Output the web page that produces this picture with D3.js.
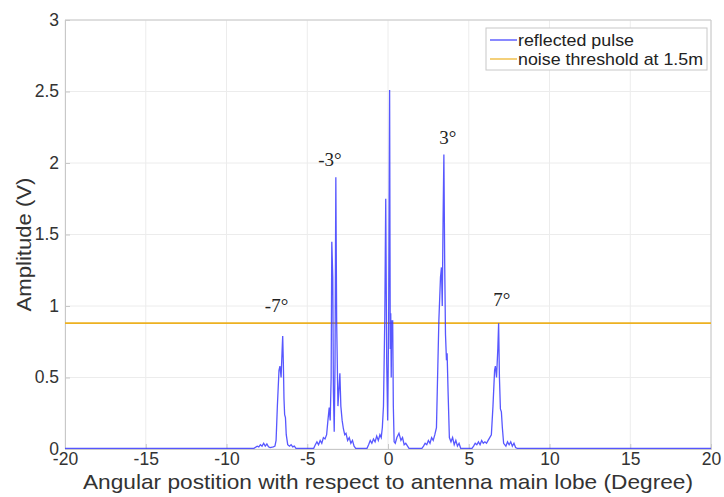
<!DOCTYPE html>
<html><head><meta charset="utf-8">
<script src="https://cdn.jsdelivr.net/npm/d3@7"></script>
<style>body{margin:0;background:#fff}svg{display:block}</style>
</head><body>
<svg id="c" width="724" height="497"></svg>
<script>
const angles = [-20,-8.3,-8.1,-8.0,-7.9,-7.8,-7.7,-7.6,-7.5,-7.4,-7.3,-7.1,-7.0,-6.93,-6.85,-6.75,-6.69,-6.62,-6.56,-6.52,-6.48,-6.44,-6.40,-6.35,-6.30,-6.21,-6.1,-6.0,-5.9,-5.8,-5.7,
 -4.6,-4.5,-4.4,-4.3,-4.2,-4.1,-4.0,-3.9,-3.8,-3.72,-3.64,-3.58,-3.52,-3.48,-3.42,-3.38,-3.33,-3.28,-3.23,-3.18,-3.1,-3.02,-2.98,-2.92,-2.84,-2.76,-2.68,-2.6,-2.5,-2.4,-2.3,-2.2,-2.1,-2.0,
 -1.3,-1.2,-1.1,-1.0,-0.9,-0.8,-0.7,-0.6,-0.5,-0.42,-0.35,-0.28,-0.2,-0.14,-0.08,-0.02,0.04,0.1,0.14,0.17,0.2,0.23,0.26,0.29,0.33,0.38,0.45,0.55,0.68,0.8,0.9,1.0,1.1,1.3,
 2.1,2.2,2.3,2.4,2.5,2.6,2.7,2.8,2.9,3.0,3.05,3.15,3.25,3.31,3.36,3.41,3.46,3.51,3.56,3.62,3.66,3.72,3.8,3.9,4.0,4.1,4.2,4.3,4.4,4.5,
 5.2,5.3,5.4,5.5,5.6,5.7,5.8,5.9,6.0,6.1,6.2,6.3,6.4,6.5,6.6,6.65,6.72,6.8,6.85,6.9,6.96,7.02,7.08,7.16,7.3,7.4,7.5,7.6,7.7,7.8,7.9,8.0,20];
const amplitudes = [0.005,0.005,0.02,0.015,0.03,0.02,0.04,0.02,0.035,0.015,0.01,0.015,0.02,0.06,0.3,0.55,0.58,0.5,0.68,0.79,0.6,0.35,0.24,0.22,0.1,0.03,0.02,0.03,0.015,0.02,0.005,
 0.005,0.03,0.05,0.03,0.06,0.04,0.08,0.07,0.1,0.2,0.29,0.2,0.5,1.45,1.2,0.4,0.12,0.6,1.9,0.9,0.3,0.45,0.53,0.3,0.2,0.14,0.1,0.11,0.06,0.08,0.04,0.06,0.02,0.005,
 0.005,0.03,0.06,0.04,0.07,0.05,0.09,0.06,0.1,0.08,0.15,0.3,0.9,1.75,0.6,0.2,0.9,2.51,0.7,0.95,0.5,0.9,0.85,0.9,0.3,0.05,0.04,0.08,0.11,0.06,0.08,0.03,0.04,0.005,
 0.005,0.02,0.04,0.03,0.06,0.04,0.08,0.06,0.1,0.15,0.4,0.9,1.2,1.27,1.0,1.6,2.06,1.3,0.8,0.62,0.67,0.4,0.08,0.05,0.08,0.03,0.06,0.02,0.04,0.005,
 0.005,0.02,0.04,0.03,0.05,0.03,0.06,0.04,0.05,0.04,0.06,0.08,0.1,0.3,0.55,0.58,0.5,0.7,0.88,0.5,0.28,0.26,0.15,0.04,0.02,0.05,0.03,0.05,0.02,0.04,0.01,0.005,0.005];
const threshold = 0.88;
const xTicks = [-20,-15,-10,-5,0,5,10,15,20];
const yTicks = [0,0.5,1,1.5,2,2.5,3];
const peakLabels = ["-7°","-3°","3°","7°"];
const peakX = [-6.9,-3.6,3.7,7.05];
const peakY = [0.96,1.98,2.13,1.0];
const legendLabels = ["reflected pulse","noise threshold at 1.5m"];

const svg = d3.select("#c");
const L=65,R=711,T=20,B=449;
const x = d3.scaleLinear().domain([-20,20]).range([L,R]);
const y = d3.scaleLinear().domain([0,3]).range([B,T]);
const font = "'Liberation Sans', Arial, sans-serif";

// grid
svg.append("g").selectAll("line").data(xTicks).join("line")
 .attr("x1",d=>x(d)).attr("x2",d=>x(d)).attr("y1",T).attr("y2",B)
 .attr("stroke","#ececec").attr("stroke-width",1);
svg.append("g").selectAll("line").data(yTicks).join("line")
 .attr("x1",L).attr("x2",R).attr("y1",d=>y(d)).attr("y2",d=>y(d))
 .attr("stroke","#ececec").attr("stroke-width",1);

// axes
const xa = svg.append("g").attr("transform",`translate(0,${B})`)
 .call(d3.axisBottom(x).tickValues(xTicks).tickSize(-5).tickPadding(11).tickFormat(d=>String(d)));
const ya = svg.append("g").attr("transform",`translate(${L},0)`)
 .call(d3.axisLeft(y).tickValues(yTicks).tickSize(-5).tickPadding(6).tickFormat(d=>String(d)));
[xa,ya].forEach(a=>{
 a.selectAll("path").attr("stroke","#c8c8c8");
 a.selectAll("line").attr("stroke","#c8c8c8");
 a.selectAll("text").attr("font-family",font).attr("font-size",17.5).attr("fill","#333");
});
xa.selectAll("text").attr("dy","0.3em");
ya.selectAll("text").attr("dy","0.3em");
// top/right frame
svg.append("line").attr("x1",L).attr("x2",R).attr("y1",T).attr("y2",T).attr("stroke","#c8c8c8");
svg.append("line").attr("x1",R).attr("x2",R).attr("y1",T).attr("y2",B).attr("stroke","#c8c8c8");

// threshold
svg.append("line").attr("x1",x(-20)).attr("x2",x(20)).attr("y1",y(threshold)).attr("y2",y(threshold))
 .attr("stroke","#edb120").attr("stroke-width",1.6);

// pulse
const pts = angles.map((a,i)=>[a,amplitudes[i]]);
svg.append("path").datum(pts)
 .attr("d",d3.line().x(d=>x(d[0])).y(d=>y(d[1])))
 .attr("fill","none").attr("stroke","#3a3aff").attr("stroke-width",1.3).attr("stroke-opacity",0.85);

// peak labels
svg.append("g").selectAll("text").data(peakLabels).join("text")
 .attr("x",(d,i)=>x(peakX[i])).attr("y",(d,i)=>y(peakY[i]))
 .attr("text-anchor","middle").attr("font-family","'Liberation Serif', 'Times New Roman', serif")
 .attr("font-size",19).attr("fill","#222").text(d=>d);

// axis titles
svg.append("text").attr("x",(L+R)/2).attr("y",489).attr("text-anchor","middle")
 .attr("font-family",font).attr("font-size",21).attr("fill","#333")
 .attr("textLength",610).attr("lengthAdjust","spacingAndGlyphs")
 .text("Angular postition with respect to antenna main lobe (Degree)");
svg.append("text").attr("transform",`translate(31,${(T+B)/2+10}) rotate(-90)`)
 .attr("text-anchor","middle")
 .attr("font-family",font).attr("font-size",21).attr("fill","#333")
 .attr("textLength",134).attr("lengthAdjust","spacingAndGlyphs").text("Amplitude (V)");

// legend
const lg = svg.append("g");
lg.append("rect").attr("x",486).attr("y",28).attr("width",221).attr("height",42)
 .attr("fill","#fff").attr("stroke","#c8c8c8");
const lc = ["#3a3aff","#edb120"];
const lw = [116,185];
legendLabels.forEach((t,i)=>{
 const yy = 40 + i*19;
 lg.append("line").attr("x1",490).attr("x2",517).attr("y1",yy).attr("y2",yy).attr("stroke",lc[i]).attr("stroke-width",1.2);
 lg.append("text").attr("x",518).attr("y",yy+6).attr("font-family",font).attr("font-size",17).attr("fill","#222")
  .attr("textLength",lw[i]).attr("lengthAdjust","spacingAndGlyphs").text(t);
});
</script>
</body></html>
